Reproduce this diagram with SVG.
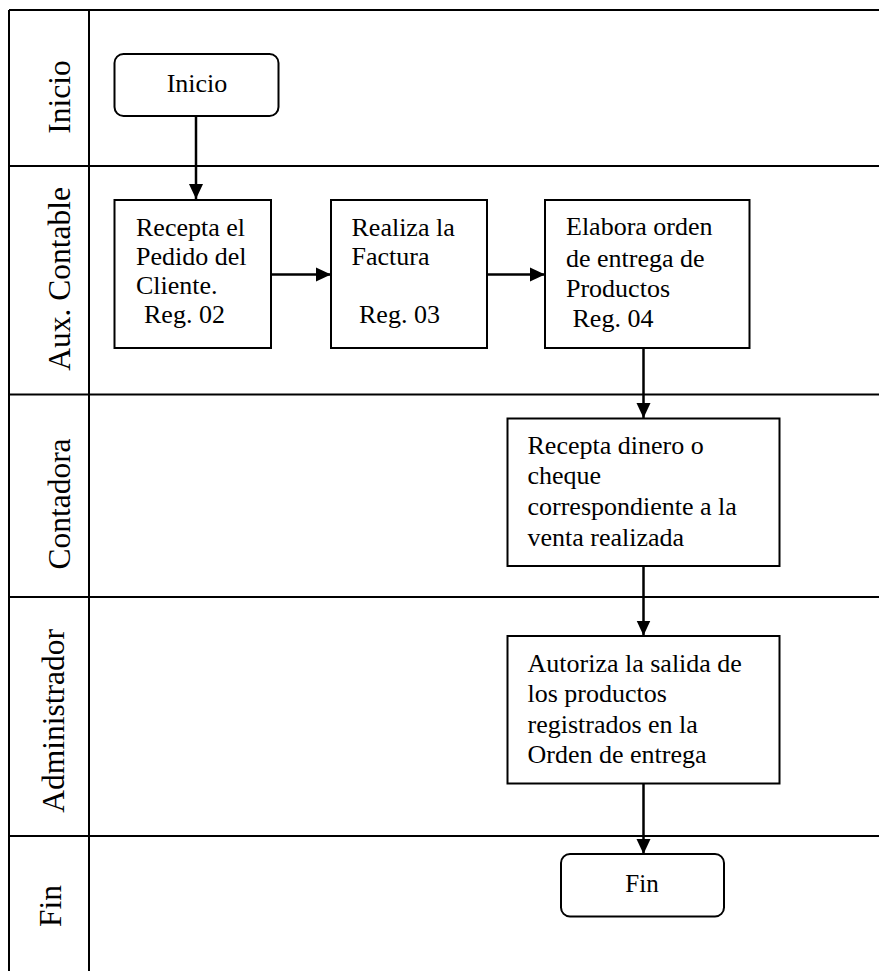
<svg xmlns="http://www.w3.org/2000/svg" width="879" height="971" viewBox="0 0 879 971">
<style>
.lane{stroke:#000;stroke-width:2;fill:none}
.box{fill:#fff;stroke:#000;stroke-width:2}
.lbl{font-family:"Liberation Serif","Times New Roman",serif;font-size:31.5px;fill:#000;text-anchor:middle}
.bt{font-family:"Liberation Serif","Times New Roman",serif;font-size:26px;fill:#000}
.c{stroke:#000;stroke-width:2.5;fill:none;marker-end:url(#ah)}
</style>
<defs>
<marker id="ah" markerUnits="userSpaceOnUse" markerWidth="16" markerHeight="16" viewBox="0 0 16 16" refX="15" refY="8" orient="auto">
<path d="M0,1 L15,8 L0,15 Z" fill="#000"/>
</marker>
</defs>
<rect width="879" height="971" fill="#fff"/>
<g id="lanes">
<line class="lane" x1="9" y1="10" x2="879" y2="10"/>
<line class="lane" x1="9" y1="10" x2="9" y2="971"/>
<line class="lane" x1="89" y1="10" x2="89" y2="971"/>
<line class="lane" x1="9" y1="166" x2="879" y2="166"/>
<line class="lane" x1="9" y1="394.5" x2="879" y2="394.5"/>
<line class="lane" x1="9" y1="597" x2="879" y2="597"/>
<line class="lane" x1="9" y1="836" x2="879" y2="836"/>
<text class="lbl" transform="translate(70,97) rotate(-90)">Inicio</text>
<text class="lbl" transform="translate(70,279) rotate(-90)">Aux. Contable</text>
<text class="lbl" transform="translate(70,504) rotate(-90)">Contadora</text>
<text class="lbl" transform="translate(64,721) rotate(-90)">Administrador</text>
<text class="lbl" transform="translate(61,906) rotate(-90)">Fin</text>
</g>
<g id="connectors">
<line class="c" x1="196" y1="116" x2="196" y2="199"/>
<line class="c" x1="271" y1="274.5" x2="331" y2="274.5"/>
<line class="c" x1="487" y1="274.5" x2="545" y2="274.5"/>
<line class="c" x1="643.5" y1="348" x2="643.5" y2="418"/>
<line class="c" x1="643.5" y1="566" x2="643.5" y2="635.5"/>
<line class="c" x1="643.5" y1="783" x2="643.5" y2="854"/>
</g>
<g id="inicio">
<rect class="box" x="114.5" y="54" width="164" height="62" rx="9"/>
<text class="bt" x="197" y="91.5" text-anchor="middle">Inicio</text>
</g>
<g id="recepta-pedido">
<rect class="box" x="114.5" y="200" width="156.5" height="148"/>
<text class="bt"><tspan x="136" y="235.5">Recepta el</tspan><tspan x="136" y="265">Pedido del</tspan><tspan x="136" y="294">Cliente.</tspan><tspan x="137.5" y="322.5"> Reg. 02</tspan></text>
</g>
<g id="realiza-factura">
<rect class="box" x="331" y="200" width="156" height="148"/>
<text class="bt"><tspan x="351.5" y="235.5">Realiza la</tspan><tspan x="351.5" y="265">Factura</tspan><tspan x="352.5" y="322.5"> Reg. 03</tspan></text>
</g>
<g id="elabora-orden">
<rect class="box" x="545" y="200" width="204.5" height="148"/>
<text class="bt"><tspan x="566" y="235">Elabora orden</tspan><tspan x="566" y="266.5">de entrega de</tspan><tspan x="566" y="296.5">Productos</tspan><tspan x="566" y="326.5"> Reg. 04</tspan></text>
</g>
<g id="recepta-dinero">
<rect class="box" x="507.5" y="418.5" width="272" height="147.5"/>
<text class="bt"><tspan x="527.5" y="453.5">Recepta dinero o</tspan><tspan x="527.5" y="484">cheque</tspan><tspan x="527.5" y="515">correspondiente a la</tspan><tspan x="527.5" y="545.5">venta realizada</tspan></text>
</g>
<g id="autoriza-salida">
<rect class="box" x="507.5" y="636" width="272" height="147.5"/>
<text class="bt"><tspan x="527.5" y="671.5">Autoriza la salida de</tspan><tspan x="527.5" y="702">los productos</tspan><tspan x="527.5" y="732.5">registrados en la</tspan><tspan x="527.5" y="763">Orden de entrega</tspan></text>
</g>
<g id="fin">
<rect class="box" x="561" y="854" width="163" height="62.5" rx="9"/>
<text class="bt" x="642" y="891.5" text-anchor="middle" style="font-size:25px">Fin</text>
</g>
</svg>
